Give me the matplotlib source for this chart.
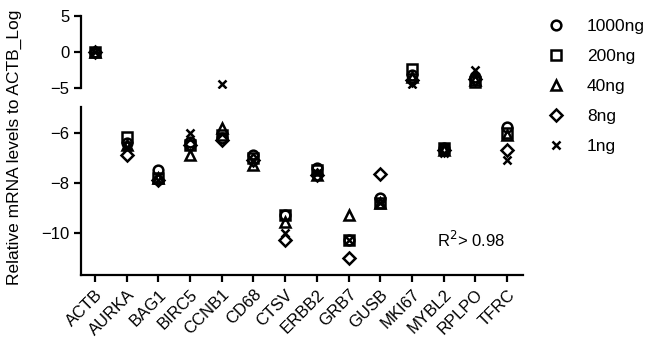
import numpy as np
import matplotlib
matplotlib.use('Agg')
import matplotlib.pyplot as plt

plt.rcParams['font.family'] = ['Liberation Sans', 'DejaVu Sans']

# Input data
genes = ['ACTB', 'AURKA', 'BAG1', 'BIRC5', 'CCNB1', 'CD68', 'CTSV', 'ERBB2',
         'GRB7', 'GUSB', 'MKI67', 'MYBL2', 'RPLPO', 'TFRC']
labels = ['1000ng', '200ng', '40ng', '8ng', '1ng']
ng1000 = [0, -6.4, -7.5, -6.35, -6.2, -6.9, -9.3, -7.4, -10.3, -8.6, -3.2, -6.6, -3.5, -5.75]
ng200 = [0, -6.15, -7.8, -6.5, -6.1, -7.0, -9.3, -7.5, -10.3, -8.8, -2.3, -6.6, -4.2, -6.0]
ng40 = [0, -6.5, -7.8, -6.9, -5.8, -7.3, -9.55, -7.7, -9.3, -8.8, -3.5, -6.7, -3.9, -6.1]
ng8 = [0, -6.9, -7.9, -6.5, -6.3, -7.1, -10.3, -7.7, -11.0, -7.65, -3.9, -6.7, -3.7, -6.7]
ng1 = [0, -6.55, -7.9, -6.0, -4.4, -7.1, -10.0, -7.6, -10.3, -8.8, -4.5, -6.8, -2.5, -7.1]

series = [ng1000, ng200, ng40, ng8, ng1]
markers = ['o', 's', '^', 'D', 'x']
sizes = [7, 7, 7, 6, 6]

fig = plt.figure(figsize=(6.5, 3.48), dpi=100)
ax_top = fig.add_axes([0.1246, 0.747, 0.68, 0.207])
ax_bot = fig.add_axes([0.1246, 0.21, 0.68, 0.4825])

x = np.arange(len(genes))
# split axis: each segment shows only the values inside its range
for ax, lo, hi in ((ax_top, -5, 5), (ax_bot, -11.68, -4.96)):
    for vals, m, s, lab in zip(series, markers, sizes, labels):
        v = np.array(vals, dtype=float)
        v[(v < lo) | (v > hi)] = np.nan
        ax.plot(x, v, linestyle='none', marker=m, ms=s, mfc='none',
                mec='black', mew=1.8, color='black', label=lab)
    ax.set_xlim(-0.44, 13.5)
    ax.set_ylim(lo, hi)
    for side in ('top', 'right'):
        ax.spines[side].set_visible(False)
    ax.spines['left'].set_linewidth(1.6)
    ax.tick_params(axis='y', width=1.6, length=5, labelsize=12)

# upper segment
ax_top.set_yticks([5, 0, -5])
ax_top.spines['bottom'].set_visible(False)
ax_top.set_xticks([])
ax_top.patch.set_alpha(0)

# lower segment
ax_bot.set_yticks([-6, -8, -10])
ax_bot.spines['bottom'].set_linewidth(1.6)
ax_bot.set_xticks(x)
ax_bot.set_xticklabels(genes, rotation=45, ha='right', rotation_mode='anchor',
                       fontsize=12)
ax_bot.tick_params(axis='x', width=1.6, length=5)
ax_bot.text(12.93, -10.28, 'R$^2$> 0.98', fontsize=12, ha='right', va='center')

fig.text(0.022, 0.578, 'Relative mRNA levels to ACTB_Log', rotation=90,
         ha='center', va='center', fontsize=12.5)

handles, labs = ax_bot.get_legend_handles_labels()
fig.legend(handles, labs, loc='upper left', bbox_to_anchor=(0.815, 0.99),
           frameon=False, fontsize=12.5, handletextpad=1.2, labelspacing=0.85,
           handlelength=1.2)

plt.savefig('out.png', dpi=100)
